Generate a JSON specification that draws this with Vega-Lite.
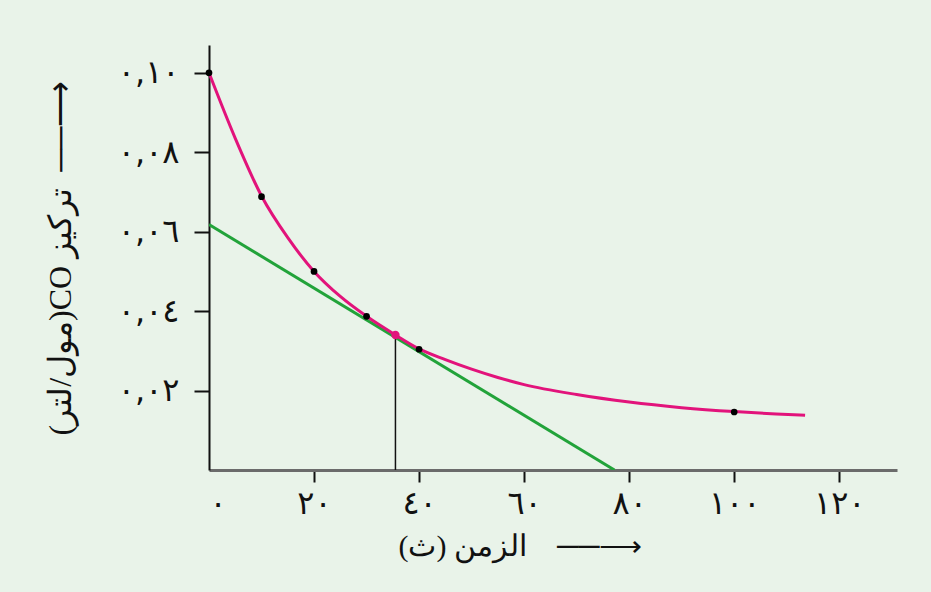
{
  "$schema": "https://vega.github.io/schema/vega-lite/v6.json",
  "width": 688,
  "height": 425,
  "autosize": {"type": "none"},
  "padding": {"left": 209, "top": 45, "right": 34, "bottom": 122},
  "background": "#e9f3e9",
  "config": {"view": {"stroke": null}},
  "datasets": {
    "curve": [
      {"t": 0, "c": 0.1},
      {"t": 5, "c": 0.0835},
      {"t": 10, "c": 0.069},
      {"t": 15, "c": 0.0585},
      {"t": 20, "c": 0.05},
      {"t": 25, "c": 0.0437},
      {"t": 30, "c": 0.0387},
      {"t": 35.5, "c": 0.034},
      {"t": 40, "c": 0.0305},
      {"t": 45, "c": 0.0278},
      {"t": 50, "c": 0.0254},
      {"t": 55, "c": 0.0233},
      {"t": 60, "c": 0.0215},
      {"t": 70, "c": 0.0190},
      {"t": 80, "c": 0.0171},
      {"t": 90, "c": 0.0157},
      {"t": 100, "c": 0.0147},
      {"t": 108, "c": 0.0141},
      {"t": 113.5, "c": 0.0138}
    ],
    "points": [
      {"t": 0, "c": 0.1},
      {"t": 10, "c": 0.0688},
      {"t": 20, "c": 0.05},
      {"t": 30, "c": 0.0387},
      {"t": 40, "c": 0.0304},
      {"t": 100, "c": 0.0146}
    ],
    "tangent": [
      {"t": 0, "c": 0.0618},
      {"t": 77.2, "c": 0}
    ],
    "vline": [
      {"t": 35.5, "c0": 0, "c1": 0.034}
    ],
    "tpoint": [
      {"t": 35.5, "c": 0.034}
    ]
  },
  "layer": [
    {
      "data": {"name": "tangent"},
      "mark": {"type": "line", "color": "#22a33a", "strokeWidth": 3, "clip": true},
      "encoding": {
        "x": {
          "field": "t", "type": "quantitative",
          "scale": {"domain": [0, 131], "nice": false, "zero": false},
          "axis": {
            "values": [0, 20, 40, 60, 80, 100, 120],
            "labelExpr": "datum.value == 0 ? '٠' : datum.value == 20 ? '٢٠' : datum.value == 40 ? '٤٠' : datum.value == 60 ? '٦٠' : datum.value == 80 ? '٨٠' : datum.value == 100 ? '١٠٠' : '١٢٠'",
            "grid": false,
            "domainColor": "#6b6b6b",
            "domainWidth": 3,
            "tickColor": {"condition": {"test": "datum.value == 0", "value": "transparent"}, "value": "#111111"},
            "tickWidth": 2,
            "tickSize": 12,
            "labelFont": "DejaVu Sans",
            "labelFontSize": 32,
            "labelColor": "#111111",
            "labelPadding": 6,
            "title": "\u202B\u27F6\u2500\u2500\u00A0\u00A0\u00A0\u00A0الزمن (ث)\u202C",
            "titleFont": "Liberation Serif",
            "titleFontSize": 30,
            "titleFontWeight": "normal",
            "titleColor": "#111111",
            "titlePadding": 12,
            "titleX": 311
          }
        },
        "y": {
          "field": "c", "type": "quantitative",
          "scale": {"domain": [0, 0.107], "nice": false, "zero": false},
          "axis": {
            "values": [0.02, 0.04, 0.06, 0.08, 0.1],
            "labelExpr": "datum.value < 0.03 ? '٠,٠٢' : datum.value < 0.05 ? '٠,٠٤' : datum.value < 0.07 ? '٠,٠٦' : datum.value < 0.09 ? '٠,٠٨' : '٠,١٠'",
            "grid": false,
            "domainColor": "#111111",
            "domainWidth": 2,
            "tickColor": "#111111",
            "tickWidth": 2,
            "tickSize": 15,
            "labelFont": "DejaVu Sans",
            "labelFontSize": 32,
            "labelColor": "#111111",
            "labelPadding": 15,
            "title": "\u202B\u27F6\u2500\u2500\u00A0\u00A0تركيز CO(مول/لتر)\u202C",
            "titleFont": "Liberation Serif",
            "titleFontSize": 32,
            "titleFontWeight": "normal",
            "titleColor": "#111111",
            "titlePadding": 40
          }
        }
      }
    },
    {
      "data": {"name": "vline"},
      "mark": {"type": "rule", "color": "#111111", "strokeWidth": 1.5},
      "encoding": {
        "x": {"field": "t", "type": "quantitative"},
        "y": {"field": "c0", "type": "quantitative"},
        "y2": {"field": "c1"}
      }
    },
    {
      "data": {"name": "curve"},
      "mark": {"type": "line", "color": "#e2137b", "strokeWidth": 3, "interpolate": "monotone"},
      "encoding": {
        "x": {"field": "t", "type": "quantitative"},
        "y": {"field": "c", "type": "quantitative"}
      }
    },
    {
      "data": {"name": "points"},
      "mark": {"type": "point", "filled": true, "color": "#000000", "size": 45, "opacity": 1},
      "encoding": {
        "x": {"field": "t", "type": "quantitative"},
        "y": {"field": "c", "type": "quantitative"}
      }
    },
    {
      "data": {"name": "tpoint"},
      "mark": {"type": "point", "filled": true, "color": "#e2137b", "size": 70, "opacity": 1},
      "encoding": {
        "x": {"field": "t", "type": "quantitative"},
        "y": {"field": "c", "type": "quantitative"}
      }
    }
  ]
}
